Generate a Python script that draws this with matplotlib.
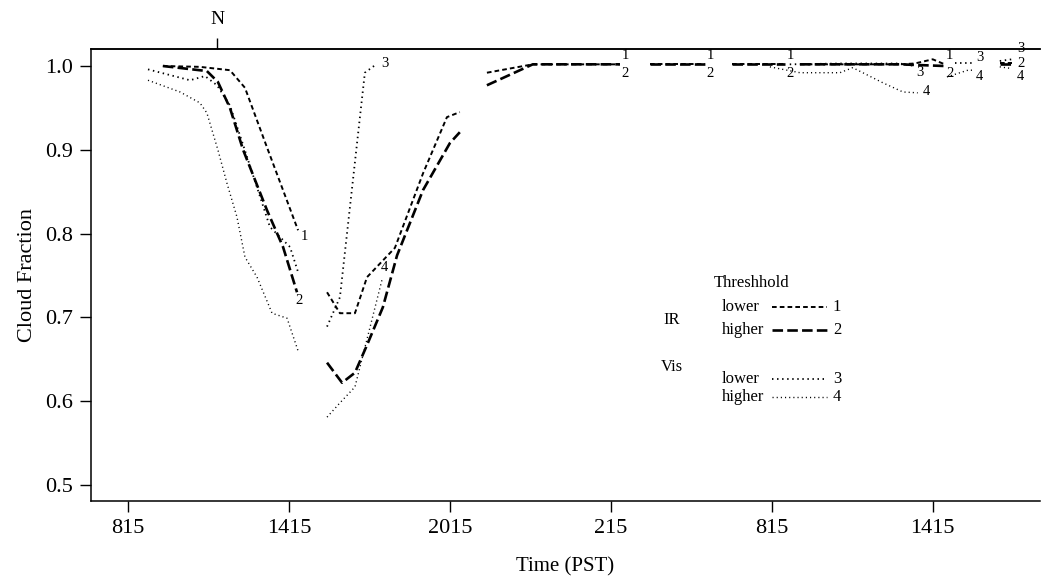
import matplotlib.pyplot as plt
from matplotlib.lines import Line2D

plt.rcParams['font.family'] = ['Liberation Serif', 'DejaVu Serif']

# hours since 08:15 PST on day 1
tick_hours = [0, 6, 12, 18, 24, 30]
tick_labels = ['815', '1415', '2015', '215', '815', '1415']
noon_hour = 3.32

# IR lower threshold (1), one list per data segment
t_ir_lower = [[1.30, 2.68, 3.80, 4.36, 5.18, 6.34],
              [7.42, 7.90, 8.46, 8.91, 9.95, 11.00, 11.89, 12.37],
              [13.38, 15.09, 18.34],
              [19.46, 21.51],
              [22.51, 24.49],
              [25.05, 28.77, 29.33, 30.00, 30.45],
              [32.50, 32.95]]
v_ir_lower = [[1.000, 0.999, 0.995, 0.974, 0.903, 0.804],
              [0.730, 0.705, 0.705, 0.748, 0.783, 0.872, 0.939, 0.945],
              [0.992, 1.002, 1.002],
              [1.002, 1.002],
              [1.002, 1.002],
              [1.002, 1.002, 1.003, 1.008, 1.002],
              [1.004, 1.004]]

# IR higher threshold (2)
t_ir_higher = [[1.30, 2.94, 3.35, 3.80, 4.29, 5.18, 5.78, 6.30],
               [7.42, 7.98, 8.46, 8.91, 9.50, 10.03, 11.00, 12.00, 12.37],
               [13.38, 15.09, 18.34],
               [19.46, 21.51],
               [22.51, 24.49],
               [25.05, 28.77, 30.45],
               [32.50, 32.95]]
v_ir_higher = [[1.000, 0.994, 0.981, 0.950, 0.900, 0.828, 0.784, 0.730],
               [0.646, 0.622, 0.634, 0.667, 0.712, 0.774, 0.852, 0.908, 0.921],
               [0.977, 1.002, 1.002],
               [1.002, 1.002],
               [1.002, 1.002],
               [1.002, 1.002, 1.000],
               [1.002, 1.002]]

# Vis lower threshold (3)
t_vis_lower = [[0.745, 2.31, 2.87, 3.32, 3.80, 4.29, 5.29, 6.04, 6.34],
               [7.42, 7.90, 8.83, 9.21],
               [24.67, 26.54, 28.77, 29.33],
               [30.82, 31.57],
               [32.50, 32.95]]
v_vis_lower = [[0.996, 0.983, 0.988, 0.977, 0.953, 0.906, 0.808, 0.784, 0.754],
               [0.689, 0.724, 0.992, 1.001],
               [1.002, 1.003, 1.003, 1.000],
               [1.003, 1.003],
               [1.006, 1.008]]

# Vis higher threshold (4)
t_vis_higher = [[0.745, 1.94, 2.68, 2.94, 3.35, 3.69, 4.06, 4.36, 4.81, 5.37, 5.93, 6.34],
                [7.42, 7.90, 8.46, 9.47],
                [23.93, 25.05, 26.54, 27.02, 28.14, 28.89, 29.44],
                [30.53, 31.31, 31.57],
                [32.50, 32.95]]
v_vis_higher = [[0.983, 0.969, 0.956, 0.944, 0.900, 0.860, 0.820, 0.772, 0.748, 0.705, 0.699, 0.660],
                [0.581, 0.598, 0.617, 0.745],
                [0.999, 0.992, 0.992, 0.998, 0.980, 0.969, 0.968],
                [0.987, 0.995, 0.995],
                [0.999, 0.997]]

# line styles per threshold
styles = {
    '1': dict(lw=1.4, ls=(0, (2.4, 1.6))),
    '2': dict(lw=1.9, ls=(0, (4.0, 1.6))),
    '3': dict(lw=1.3, ls=(0, (0.8, 2.0))),
    '4': dict(lw=1.0, ls=(0, (0.8, 2.2))),
}

# end labels: (segment, dx, dy) offsets in pixels
end_labels = {
    '1': [(0, 6, -6), (2, 5, 9), (3, 5, 9), (4, 5, 9), (5, 5, 9)],
    '2': [(0, 2, -8), (2, 5, -9), (3, 5, -9), (4, 5, -9), (5, 5, -7), (6, 9, 1)],
    '3': [(1, 10, 2), (2, 5, -6), (3, 5, 6), (4, 9, 11)],
    '4': [(1, 2, 12), (2, 9, 1), (3, 5, -6), (4, 9, -8)],
}

series = {
    '1': (t_ir_lower, v_ir_lower),
    '2': (t_ir_higher, v_ir_higher),
    '3': (t_vis_lower, v_vis_lower),
    '4': (t_vis_higher, v_vis_higher),
}

W, H = 1042, 577
fig = plt.figure(figsize=(W / 100, H / 100), dpi=100)
ax = fig.add_axes([91 / W, 1 - 501 / H, 949 / W, 452 / H])

for key, (tt, vv) in series.items():
    for t, v in zip(tt, vv):
        ax.plot(t, v, color='black', linestyle=styles[key]['ls'],
                linewidth=styles[key]['lw'], dash_capstyle='butt')
    for seg, dx, dy in end_labels[key]:
        ax.annotate(key, (tt[seg][-1], vv[seg][-1]), xytext=(dx * 0.72, dy * 0.72),
                    textcoords='offset points', ha='center', va='center', fontsize=10.5)

ax.set_xlim(-1.38, 34.0)
ax.set_ylim(0.4809, 1.0203)
ax.set_xticks(tick_hours)
ax.set_xticklabels(tick_labels)
ax.set_yticks([0.5, 0.6, 0.7, 0.8, 0.9, 1.0])
ax.set_yticklabels(['0.5', '0.6', '0.7', '0.8', '0.9', '1.0'])
ax.tick_params(direction='out', length=8, width=1, labelsize=16, pad=5)
ax.spines['right'].set_visible(False)
for s in ['left', 'bottom', 'top']:
    ax.spines[s].set_linewidth(1.1)

sec = ax.secondary_xaxis('top')
sec.set_xticks([noon_hour])
sec.set_xticklabels(['N'])
sec.tick_params(direction='out', length=8, width=1, labelsize=14, pad=7)
sec.spines['top'].set_linewidth(1.1)

ax.set_xlabel('Time (PST)', fontsize=15, labelpad=14)
ax.set_ylabel('Cloud Fraction', fontsize=16, labelpad=6)

# legend block
def fx(x):
    return x / W

def fy(y):
    return 1 - y / H

fig.text(fx(752), fy(283), 'Threshhold', fontsize=12, ha='center', va='center')
fig.text(fx(672), fy(320), 'IR', fontsize=12, ha='center', va='center')
fig.text(fx(672), fy(367), 'Vis', fontsize=12, ha='center', va='center')
legend_rows = [('lower', '1', 307), ('higher', '2', 330), ('lower', '3', 379), ('higher', '4', 397)]
for name, key, y in legend_rows:
    fig.text(fx(722), fy(y), name, fontsize=12, ha='left', va='center')
    fig.add_artist(Line2D([fx(772), fx(827)], [fy(y), fy(y)], transform=fig.transFigure,
                          color='black', linestyle=styles[key]['ls'],
                          linewidth=styles[key]['lw'], dash_capstyle='butt'))
    fig.text(fx(837), fy(y), key, fontsize=12, ha='center', va='center')

fig.savefig('out.png', dpi=100)
